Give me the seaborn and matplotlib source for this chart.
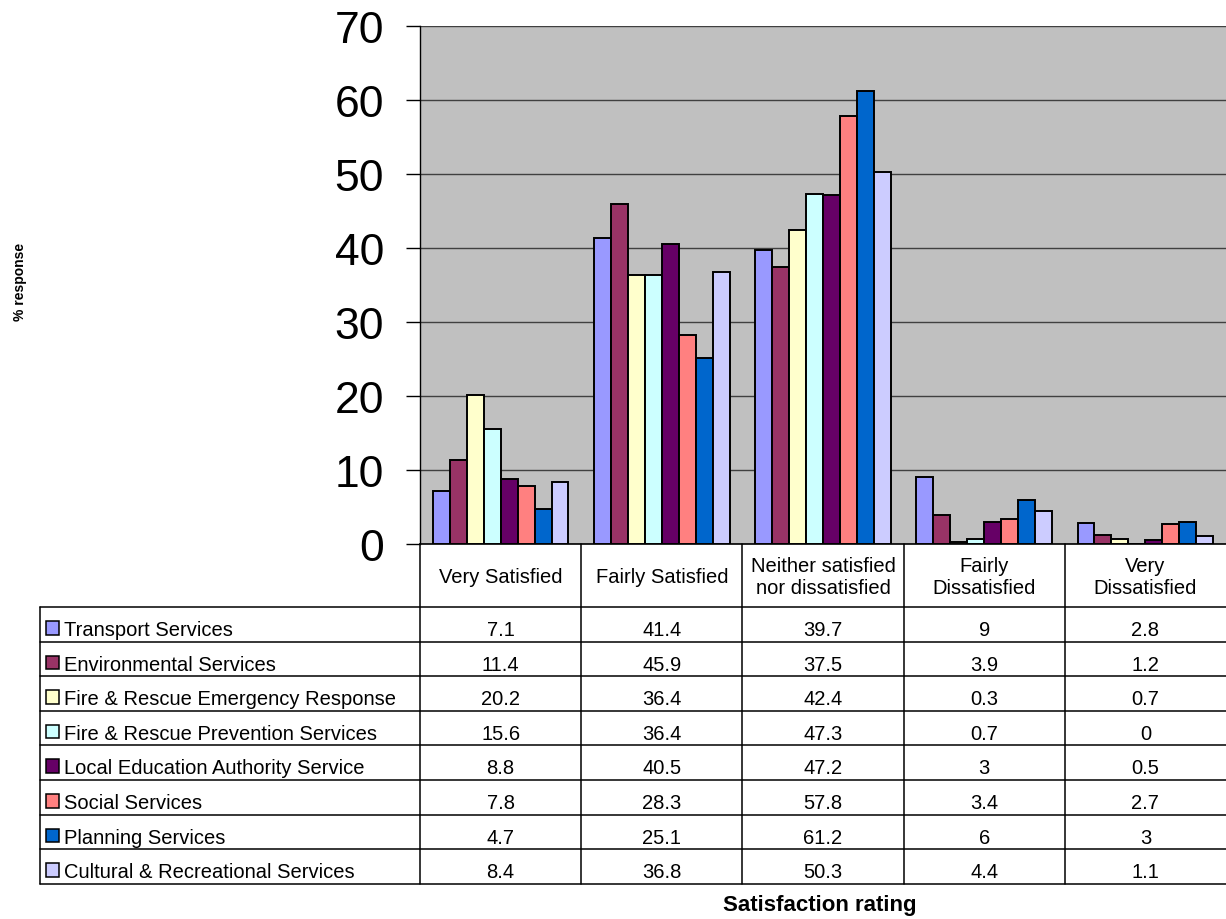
import matplotlib
matplotlib.use("Agg")
import matplotlib.pyplot as plt
import seaborn as sns
import pandas as pd
from matplotlib.patches import Rectangle
from matplotlib.lines import Line2D

# ---- data -------------------------------------------------------------
ratings = ["Very Satisfied", "Fairly Satisfied", "Neither satisfied\nnor dissatisfied",
           "Fairly\nDissatisfied", "Very\nDissatisfied"]
services = ["Transport Services", "Environmental Services",
            "Fire & Rescue Emergency Response", "Fire & Rescue Prevention Services",
            "Local Education Authority Service", "Social Services",
            "Planning Services", "Cultural & Recreational Services"]
transport = [7.1, 41.4, 39.7, 9, 2.8]
environmental = [11.4, 45.9, 37.5, 3.9, 1.2]
fire_emergency = [20.2, 36.4, 42.4, 0.3, 0.7]
fire_prevention = [15.6, 36.4, 47.3, 0.7, 0]
education = [8.8, 40.5, 47.2, 3, 0.5]
social = [7.8, 28.3, 57.8, 3.4, 2.7]
planning = [4.7, 25.1, 61.2, 6, 3]
cultural = [8.4, 36.8, 50.3, 4.4, 1.1]
series = [transport, environmental, fire_emergency, fire_prevention,
          education, social, planning, cultural]
colors = ["#9999FF", "#993366", "#FFFFCC", "#CCFFFF",
          "#660066", "#FF8080", "#0066CC", "#CCCCFF"]
y_ticks = [0, 10, 20, 30, 40, 50, 60, 70]

df = pd.DataFrame(
    [(r, s, v) for s, vals in zip(services, series) for r, v in zip(ratings, vals)],
    columns=["rating", "service", "value"],
)

# ---- figure -----------------------------------------------------------
W, H = 1226, 920
sns.set_style("white", {"text.color": "black", "axes.labelcolor": "black",
                        "xtick.color": "black", "ytick.color": "black",
                        "ytick.left": True})
plt.rcParams["font.family"] = ["Liberation Sans", "DejaVu Sans"]
fig = plt.figure(figsize=(W / 100, H / 100), dpi=100)

ax_l, ax_r, ax_t, ax_b = 420, 1226, 27, 545
ax = fig.add_axes([ax_l / W, 1 - ax_b / H, (ax_r - ax_l) / W, (ax_b - ax_t) / H])
ax.set_facecolor("#C0C0C0")

sns.barplot(data=df, x="rating", y="value", hue="service", order=ratings,
            hue_order=services, palette=colors, width=8 / 9.5, gap=0,
            edgecolor="black", linewidth=1.4, saturation=1, legend=False, ax=ax,
            zorder=3)

ax.set_xlim(-0.5, 4.5)
ax.set_ylim(0, 70)
ax.set_yticks(y_ticks)
ax.set_yticklabels([str(t) for t in y_ticks], fontsize=32, color="black")
ax.tick_params(axis="y", left=True, length=10, width=1, color="black",
               pad=16, direction="out")
ax.set_xticks([])
ax.set_xlabel("")
ax.set_ylabel("")
ax.yaxis.grid(True, color="#404040", linewidth=1, zorder=1)
ax.set_axisbelow(True)
for side in ["top", "right"]:
    ax.spines[side].set_visible(False)
ax.spines["left"].set_color("black")
ax.spines["bottom"].set_color("black")
ax.spines["left"].set_linewidth(1)
ax.spines["bottom"].set_linewidth(1.2)

# ---- data table under the plot, drawn in pixel coordinates -------------
tab = fig.add_axes([0, 0, 1, 1])
tab.set_xlim(0, W)
tab.set_ylim(H, 0)
tab.axis("off")
tab.patch.set_alpha(0)

col_edges = [420 + i * (ax_r - ax_l) / 5 for i in range(5)]
row_top = 608.0
row_h = 34.6
n_rows = len(services)
row_bottom = row_top + n_rows * row_h
table_left = 40
lc = "black"
lw = 1.1

for i in range(n_rows + 1):
    y = row_top + i * row_h
    tab.add_line(Line2D([table_left, W], [y, y], color=lc, lw=lw))
tab.add_line(Line2D([table_left, table_left], [row_top, row_bottom], color=lc, lw=lw))
for x in col_edges:
    tab.add_line(Line2D([x, x], [ax_b, row_bottom], color=lc, lw=lw))

fs = 14.5
col_w = (ax_r - ax_l) / 5
for j, lab in enumerate(ratings):
    tab.text(col_edges[j] + col_w / 2, (ax_b + row_top) / 2 + 1, lab,
             ha="center", va="center", fontsize=fs, linespacing=1.25,
             color="black")

for i, (name, vals, c) in enumerate(zip(services, series, colors)):
    yb = row_top + i * row_h + 28.0
    tab.add_patch(Rectangle((46, yb - 14), 13, 13.5, facecolor=c,
                            edgecolor="black", lw=1.1))
    tab.text(64, yb, name, ha="left", va="baseline", fontsize=fs, color="black")
    for j, v in enumerate(vals):
        tab.text(col_edges[j] + col_w / 2, yb, f"{v:g}",
                 ha="center", va="baseline", fontsize=fs, color="black")

fig.text(20 / W, 1 - 282 / H, "% response", rotation=90, ha="center",
         va="center", fontsize=10, fontweight="bold", color="black")
fig.text(820 / W, 1 - 906 / H, "Satisfaction rating", ha="center",
         va="center", fontsize=16, fontweight="bold", color="black")

fig.savefig("out.png", dpi=100, facecolor="white")
